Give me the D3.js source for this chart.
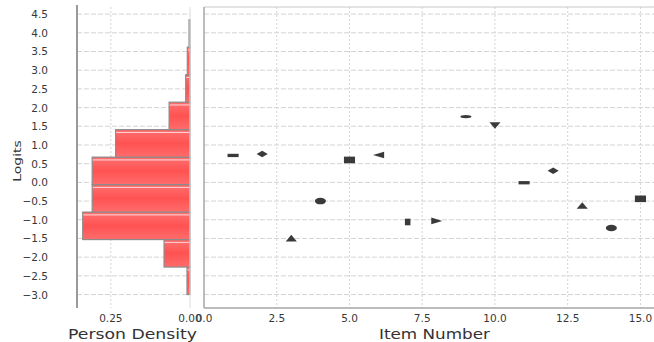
<!DOCTYPE html>
<html>
<head>
<meta charset="utf-8">
<script src="https://cdn.jsdelivr.net/npm/d3@7"></script>
<style>
  body { margin: 0; background: #fff; }
  svg { display: block; font-family: "DejaVu Sans", sans-serif; }
</style>
</head>
<body>
<script>
const width = 654;
const height = 342;

// person density histogram over logits
const binEdges = [-3.0, -2.265, -1.53, -0.795, -0.06, 0.675, 1.41, 2.145, 2.88, 3.615, 4.35];
const densities = [0.0095, 0.082, 0.339, 0.309, 0.309, 0.235, 0.066, 0.0136, 0.0085, 0.003];

// item difficulty per item
const itemNumbers = [1, 2, 3, 4, 5, 6, 7, 8, 9, 10, 11, 12, 13, 14, 15];
const itemLogits = [0.72, 0.76, -1.49, -0.50, 0.60, 0.73, -1.06, -1.03, 1.76, 1.52, -0.01, 0.31, -0.62, -1.22, -0.44];
const itemShapes = ["hrect", "diamond", "triUp", "circle", "square", "triLeft", "vrect", "triRight",
                    "hellipse", "triDown", "hrect", "diamond", "triUp", "circle", "square"];

const logitTicks = d3.range(-3, 4.51, 0.5);
const densityTicks = [0.25, 0];
const itemTicks = [0, 2.5, 5, 7.5, 10, 12.5, 15];

const svg = d3.select("body")
  .append("svg")
  .attr("width", width)
  .attr("height", height)
  .attr("viewBox", [0, 0, width, height]);

const plotTop = 7, plotBottom = 308;
const left1 = 77, right1 = 190;   // density panel
const left2 = 204, right2 = 655;  // item panel

const y = d3.scaleLinear().domain([-3.36, 4.69]).range([plotBottom, plotTop]);
const xd = d3.scaleLinear().domain([0, 0.357]).range([right1, left1]);
const xi = d3.scaleLinear().domain([0, 15.5]).range([left2, right2]);

// bar gradient (JFreeChart style highlight)
const grad = svg.append("defs").append("linearGradient")
  .attr("id", "barGrad")
  .attr("x1", 0).attr("y1", 0).attr("x2", 0).attr("y2", 1);
[[0, "#ff5a5a"], [0.07, "#ff7272"], [0.1, "#ffdada"], [0.14, "#ff6868"],
 [0.5, "#ff5252"], [1, "#ff6c6c"]].forEach(([o, c]) =>
  grad.append("stop").attr("offset", o).attr("stop-color", c));

const gridColor = "#d4d4d4";

// horizontal grid, both panels
[[left1, right1], [left2, right2]].forEach(([a, b]) => {
  svg.append("g")
    .selectAll("line")
    .data(logitTicks)
    .join("line")
    .attr("x1", a).attr("x2", b)
    .attr("y1", d => y(d)).attr("y2", d => y(d))
    .attr("stroke", gridColor)
    .attr("stroke-dasharray", "5,2");
});

// vertical grid
svg.append("g")
  .selectAll("line")
  .data(densityTicks.filter(d => d > 0))
  .join("line")
  .attr("x1", d => xd(d)).attr("x2", d => xd(d))
  .attr("y1", plotTop).attr("y2", plotBottom)
  .attr("stroke", gridColor)
  .attr("stroke-dasharray", "2,2");

svg.append("g")
  .selectAll("line")
  .data(itemTicks.filter(d => d > 0))
  .join("line")
  .attr("x1", d => xi(d)).attr("x2", d => xi(d))
  .attr("y1", plotTop).attr("y2", plotBottom)
  .attr("stroke", gridColor)
  .attr("stroke-dasharray", "2,2");

// histogram bars
svg.append("g")
  .selectAll("rect")
  .data(densities)
  .join("rect")
  .attr("x", d => xd(d))
  .attr("width", d => xd(0) - xd(d))
  .attr("y", (d, i) => y(binEdges[i + 1]))
  .attr("height", (d, i) => y(binEdges[i]) - y(binEdges[i + 1]))
  .attr("fill", "url(#barGrad)")
  .attr("stroke", "#8c8c8c")
  .attr("stroke-width", 1.2);

// panel frames
svg.append("line").attr("x1", right1).attr("x2", right1).attr("y1", plotTop).attr("y2", plotBottom)
  .attr("stroke", "#dcdcdc");
svg.append("line").attr("x1", left1).attr("x2", left1).attr("y1", plotTop - 2).attr("y2", plotBottom)
  .attr("stroke", "#9a9a9a").attr("stroke-width", 2);
svg.append("line").attr("x1", left2).attr("x2", right2).attr("y1", plotTop).attr("y2", plotTop)
  .attr("stroke", "#c8c8c8");
svg.append("line").attr("x1", left2).attr("x2", left2).attr("y1", plotTop).attr("y2", plotBottom)
  .attr("stroke", "#a6a6a6").attr("stroke-width", 1.5);
svg.append("line").attr("x1", left2).attr("x2", right2).attr("y1", plotBottom).attr("y2", plotBottom)
  .attr("stroke", "#a6a6a6").attr("stroke-width", 1.5);

// item shapes (JFreeChart default series shapes, size 6)
const shapePaths = {
  square: "M-3,-3H3V3H-3Z",
  circle: "M-3,0A3,3 0 1,0 3,0A3,3 0 1,0 -3,0Z",
  triUp: "M0,-3L3,3L-3,3Z",
  diamond: "M0,-3L3,0L0,3L-3,0Z",
  hrect: "M-3,-1.5H3V1.5H-3Z",
  triDown: "M-3,-3L3,-3L0,3Z",
  hellipse: "M-3,0A3,1.5 0 1,0 3,0A3,1.5 0 1,0 -3,0Z",
  triRight: "M-3,-3L3,0L-3,3Z",
  vrect: "M-1.5,-3H1.5V3H-1.5Z",
  triLeft: "M-3,0L3,-3L3,3Z"
};

svg.append("g")
  .selectAll("path")
  .data(itemNumbers)
  .join("path")
  .attr("d", (d, i) => shapePaths[itemShapes[i]])
  .attr("transform", (d, i) => `translate(${xi(d)},${y(itemLogits[i])}) scale(1.85,1.1)`)
  .attr("fill", "#3a3a3a");

// tick labels
const tickFont = 10.5, tickColor = "#383838";
svg.append("g")
  .selectAll("text")
  .data(logitTicks)
  .join("text")
  .attr("x", 48)
  .attr("y", d => y(d) + 4)
  .attr("text-anchor", "end")
  .attr("font-size", tickFont)
  .attr("fill", tickColor)
  .text(d3.format(".1f"));

svg.append("g")
  .selectAll("text")
  .data(densityTicks)
  .join("text")
  .attr("x", d => xd(d))
  .attr("y", 322)
  .attr("text-anchor", "middle")
  .attr("font-size", tickFont)
  .attr("fill", tickColor)
  .text(d3.format(".2f"));

svg.append("g")
  .selectAll("text")
  .data(itemTicks)
  .join("text")
  .attr("x", d => xi(d))
  .attr("y", 322)
  .attr("text-anchor", "middle")
  .attr("font-size", tickFont)
  .attr("fill", tickColor)
  .text(d3.format(".1f"));

// axis titles
svg.append("text")
  .attr("x", 68).attr("y", 339)
  .attr("font-size", 14).attr("fill", "#333")
  .attr("textLength", 129).attr("lengthAdjust", "spacingAndGlyphs")
  .text("Person Density");

svg.append("text")
  .attr("x", 379).attr("y", 339)
  .attr("font-size", 14).attr("fill", "#333")
  .attr("textLength", 111).attr("lengthAdjust", "spacingAndGlyphs")
  .text("Item Number");

svg.append("text")
  .attr("transform", "translate(21,161) scale(0.8,1) rotate(-90)")
  .attr("text-anchor", "middle")
  .attr("font-size", 14).attr("fill", "#333")
  .text("Logits");
</script>
</body>
</html>
